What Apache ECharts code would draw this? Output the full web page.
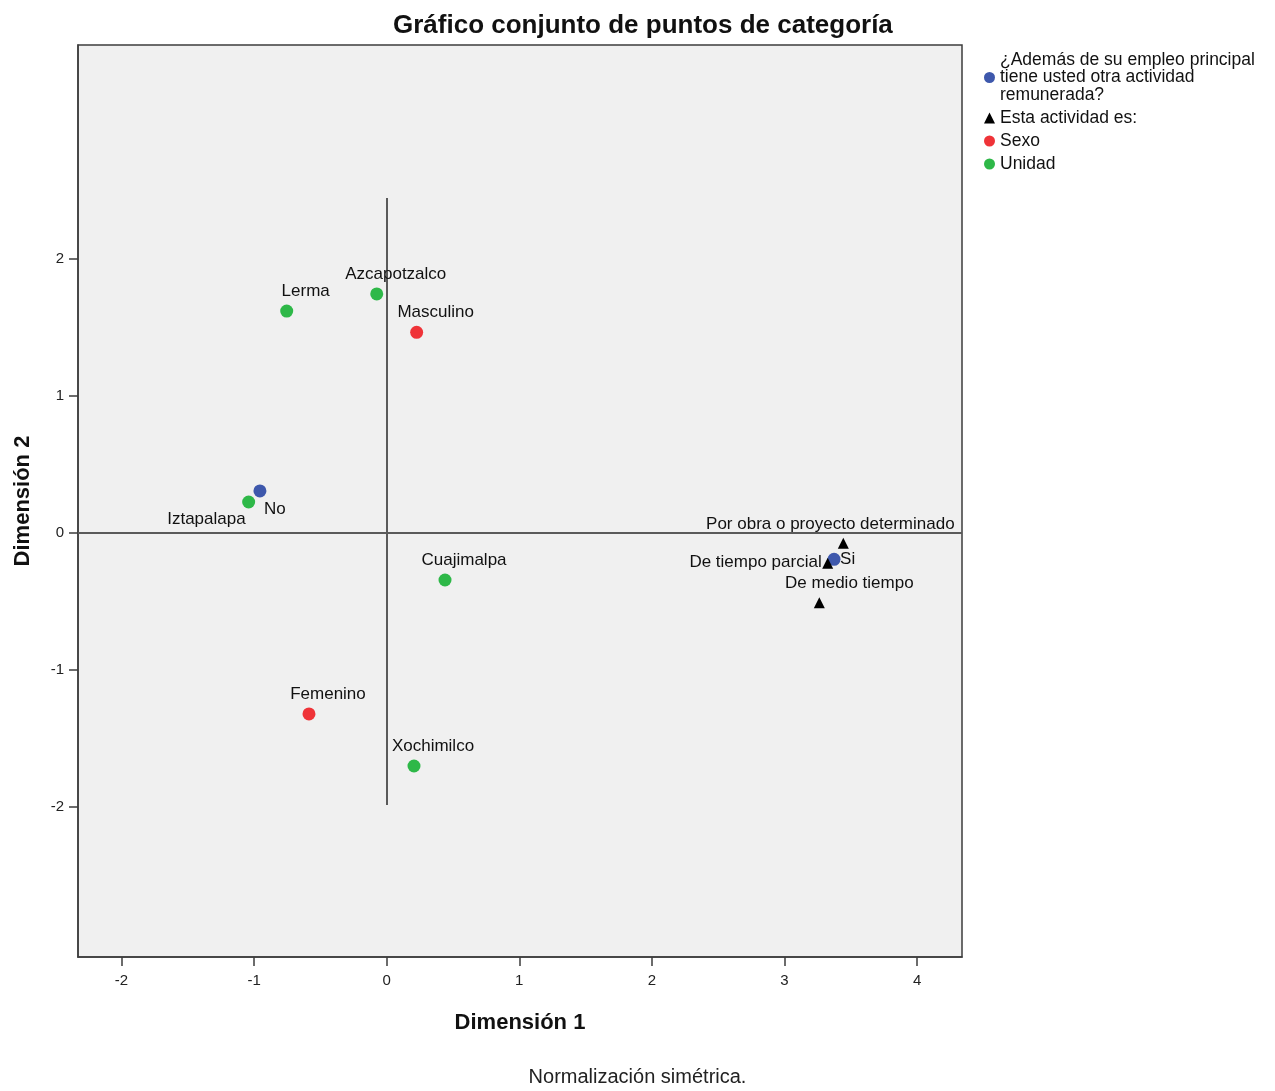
<!DOCTYPE html>
<html>
<head>
<meta charset="utf-8">
<script src="https://cdn.jsdelivr.net/npm/echarts@6/dist/echarts.min.js"></script>
<style>html,body{margin:0;padding:0;background:#fff}#c{width:1275px;height:1091px}</style>
</head>
<body>
<div id="c"></div>
<script>
// ---- data ----
const seriesNames = [
  "¿Además de su empleo principal tiene usted otra actividad remunerada?",
  "Esta actividad es:",
  "Sexo",
  "Unidad"
];
const otraActividad = [
  ["No", -0.956, 0.307],
  ["Si", 3.374, -0.192]
];
const estaActividad = [
  ["Por obra o proyecto determinado", 3.444, -0.075],
  ["De tiempo parcial", 3.326, -0.221],
  ["De medio tiempo", 3.263, -0.509]
];
const sexo = [
  ["Masculino", 0.226, 1.465],
  ["Femenino", -0.586, -1.321]
];
const unidad = [
  ["Lerma", -0.754, 1.620],
  ["Azcapotzalco", -0.075, 1.745],
  ["Iztapalapa", -1.041, 0.226],
  ["Cuajimalpa", 0.440, -0.343],
  ["Xochimilco", 0.206, -1.701]
];
const xTicks = [-2, -1, 0, 1, 2, 3, 4];
const yTicks = [-2, -1, 0, 1, 2];
const refHorizontal = [[-2.328, 0], [4.339, 0]];
const refVertical = [[0, -1.985], [0, 2.445]];

// ---- styling (label placement per category) ----
const labelPlace = {
  "No": {align: "left", offset: [4, 18]},
  "Si": {align: "left", offset: [6, 0]},
  "Iztapalapa": {align: "right", offset: [-3, 17]},
  "Por obra o proyecto determinado": {align: "center", offset: [-13, -19]},
  "De tiempo parcial": {align: "right", offset: [-6, -1]},
  "De medio tiempo": {align: "center", offset: [30, -19]}
};
const defPlace = {align: "center", offset: [19, -20]};
const FONT = "Liberation Sans, Arial, sans-serif";

function toData(arr) {
  return arr.map(function (d) {
    const p = labelPlace[d[0]] || defPlace;
    return {
      name: d[0],
      value: [d[1], d[2]],
      label: {show: true, position: "inside", align: p.align, verticalAlign: "middle", offset: p.offset}
    };
  });
}

const colors = ["#3E58AC", "#000000", "#EF3338", "#2EB848"];
const symbols = ["circle", "triangle", "circle", "circle"];
const groups = [otraActividad, estaActividad, sexo, unidad];

const series = groups.map(function (g, i) {
  return {
    name: seriesNames[i],
    type: "scatter",
    symbol: symbols[i],
    symbolSize: i === 1 ? 11 : 13,
    itemStyle: {color: colors[i], opacity: 1},
    label: {
      show: true,
      formatter: "{b}",
      color: "#111",
      fontFamily: FONT,
      fontSize: 17
    },
    emphasis: {disabled: true},
    data: toData(g),
    z: 5
  };
});

series.unshift({
  type: "line",
  data: [],
  silent: true,
  markLine: {
    silent: true,
    symbol: "none",
    label: {show: false},
    lineStyle: {color: "#5a5a5a", width: 2, type: "solid"},
    data: [
      [{coord: refHorizontal[0]}, {coord: refHorizontal[1]}],
      [{coord: refVertical[0]}, {coord: refVertical[1]}]
    ]
  },
  z: 2
});

const chart = echarts.init(document.getElementById("c"), null, {renderer: "canvas"});
chart.setOption({
  animation: false,
  backgroundColor: "#ffffff",
  title: [
    {
      text: "Gráfico conjunto de puntos de categoría",
      left: 388,
      top: 8,
      textStyle: {fontFamily: FONT, fontWeight: "bold", fontSize: 26, color: "#111"}
    },
    {
      text: "Normalización simétrica.",
      left: "center",
      top: 1062,
      textStyle: {fontFamily: FONT, fontWeight: "normal", fontSize: 20, color: "#222"}
    }
  ],
  legend: {
    orient: "vertical",
    left: 979,
    top: 46,
    itemWidth: 11,
    itemHeight: 11,
    itemGap: 5,
    selectedMode: false,
    data: [
      {name: seriesNames[0], icon: "circle"},
      {name: seriesNames[1], icon: "triangle"},
      {name: seriesNames[2], icon: "circle"},
      {name: seriesNames[3], icon: "circle"}
    ],
    formatter: function (n) {
      if (n === seriesNames[0]) return "¿Además de su empleo principal\ntiene usted otra actividad\nremunerada?";
      return n;
    },
    textStyle: {fontFamily: FONT, fontSize: 17.5, lineHeight: 17.5, color: "#111", padding: [0, 0, 0, 0]}
  },
  grid: {
    left: 78, right: 313, top: 45, bottom: 134,
    show: true,
    backgroundColor: "#f0f0f0",
    borderColor: "#3c3c3c",
    borderWidth: 1.5
  },
  xAxis: {
    type: "value",
    min: -2.328,
    max: 4.339,
    name: "Dimensión 1",
    nameLocation: "middle",
    nameGap: 55,
    nameTextStyle: {fontFamily: FONT, fontWeight: "bold", fontSize: 22, color: "#111"},
    axisLine: {show: true, onZero: false, lineStyle: {color: "#3c3c3c", width: 1.5}},
    axisTick: {show: true, length: 9, customValues: xTicks, lineStyle: {color: "#3c3c3c", width: 1.5}},
    axisLabel: {customValues: xTicks, margin: 16, fontFamily: FONT, fontSize: 15, color: "#222"},
    splitLine: {show: false}
  },
  yAxis: {
    type: "value",
    min: -3.095,
    max: 3.562,
    name: "Dimensión 2",
    nameLocation: "middle",
    nameGap: 44,
    nameRotate: 90,
    nameTextStyle: {fontFamily: FONT, fontWeight: "bold", fontSize: 22, color: "#111"},
    axisLine: {show: true, onZero: false, lineStyle: {color: "#3c3c3c", width: 1.5}},
    axisTick: {show: true, length: 9, customValues: yTicks, lineStyle: {color: "#3c3c3c", width: 1.5}},
    axisLabel: {customValues: yTicks, margin: 14, fontFamily: FONT, fontSize: 15, color: "#222"},
    splitLine: {show: false}
  },
  series: series
});
</script>
</body>
</html>
